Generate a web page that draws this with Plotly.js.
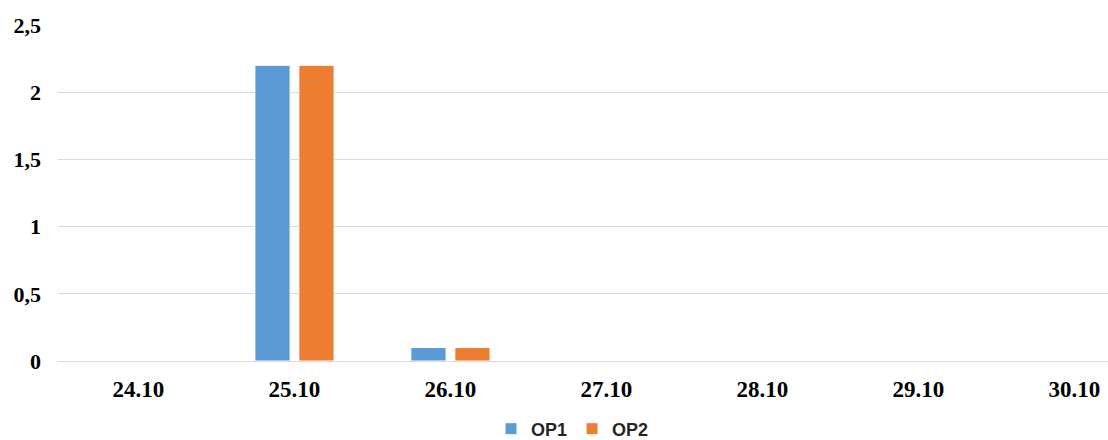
<!DOCTYPE html>
<html>
<head>
<meta charset="utf-8">
<script src="https://cdn.plot.ly/plotly-3.0.1.min.js"></script>
<style>html,body{margin:0;padding:0;background:#fff;}#chart{width:1108px;height:440px;}</style>
</head>
<body>
<div id="chart"></div>
<script>
const categories = ["24.10", "25.10", "26.10", "27.10", "28.10", "29.10", "30.10"];
const op1Values = [0, 2.2, 0.1, 0, 0, 0, 0];
const op2Values = [0, 2.2, 0.1, 0, 0, 0, 0];
const seriesNames = ["OP1", "OP2"];
const yTicks = [0, 0.5, 1, 1.5, 2, 2.5];

const data = [
  {type: 'bar', name: seriesNames[0], x: categories, y: op1Values,
   marker: {color: '#5B9BD5', line: {color: '#ffffff', width: 1}}},
  {type: 'bar', name: seriesNames[1], x: categories, y: op2Values,
   marker: {color: '#ED7D31', line: {color: '#ffffff', width: 1}}}
];

const layout = {
  width: 1108, height: 440,
  margin: {l: 58, r: 0, t: 25, b: 79, pad: 0, autoexpand: false},
  paper_bgcolor: '#ffffff', plot_bgcolor: '#ffffff',
  separators: ', ',
  barmode: 'group',
  bargap: 0.436,
  bargroupgap: 0.2,
  showlegend: true,
  legend: {orientation: 'h', x: 0.49, xanchor: 'center', xref: 'paper',
           y: 0.025, yanchor: 'middle', yref: 'container',
           font: {family: 'Liberation Sans, Arial, sans-serif', size: 18, color: '#262626', weight: 'bold'},
           itemwidth: 30, tracegroupgap: 0},
  xaxis: {type: 'category', range: [-0.516, 6.215], showgrid: false, showline: false, ticks: '',
          automargin: false, ticklabelstandoff: 12,
          tickfont: {family: 'Liberation Serif, Times New Roman, serif', size: 23, color: '#000000', weight: 'bold'}},
  yaxis: {range: [0, 2.5], tickvals: yTicks, showgrid: true, gridcolor: '#D9D9D9', gridwidth: 1,
          zeroline: true, zerolinecolor: '#D9D9D9', zerolinewidth: 1, showline: false, ticks: '',
          automargin: false, ticklabelstandoff: 16,
          tickfont: {family: 'Liberation Serif, Times New Roman, serif', size: 22, color: '#000000', weight: 'bold'}}
};

Plotly.newPlot('chart', data, layout, {displayModeBar: false, staticPlot: true});
</script>
</body>
</html>
